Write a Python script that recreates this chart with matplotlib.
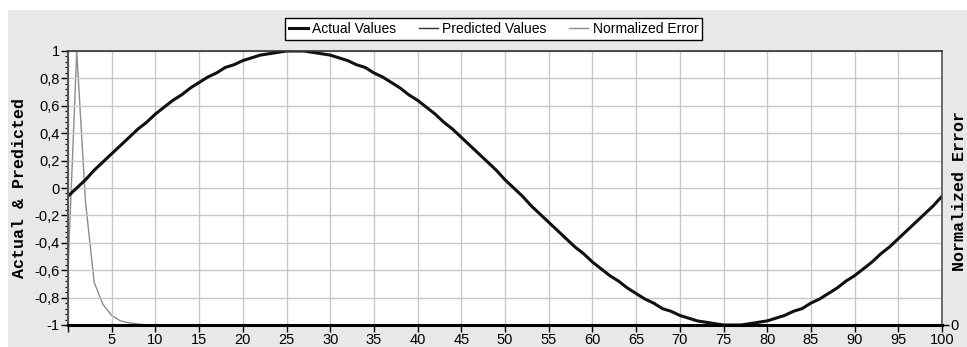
import numpy as np
import matplotlib.pyplot as plt
from matplotlib.ticker import MultipleLocator, FuncFormatter
from matplotlib.patches import Rectangle

# Data (one sample per x step)
x_values = list(range(0, 101))
actual_values = [
    -0.06, 0.00, 0.06, 0.13, 0.19, 0.25, 0.31, 0.37, 0.43, 0.48,
    0.54, 0.59, 0.64, 0.68, 0.73, 0.77, 0.81, 0.84, 0.88, 0.90,
    0.93, 0.95, 0.97, 0.98, 0.99, 1.00, 1.00, 1.00, 0.99, 0.98,
    0.97, 0.95, 0.93, 0.90, 0.88, 0.84, 0.81, 0.77, 0.73, 0.68,
    0.64, 0.59, 0.54, 0.48, 0.43, 0.37, 0.31, 0.25, 0.19, 0.13,
    0.06, 0.00, -0.06, -0.13, -0.19, -0.25, -0.31, -0.37, -0.43, -0.48,
    -0.54, -0.59, -0.64, -0.68, -0.73, -0.77, -0.81, -0.84, -0.88, -0.90,
    -0.93, -0.95, -0.97, -0.98, -0.99, -1.00, -1.00, -1.00, -0.99, -0.98,
    -0.97, -0.95, -0.93, -0.90, -0.88, -0.84, -0.81, -0.77, -0.73, -0.68,
    -0.64, -0.59, -0.54, -0.48, -0.43, -0.37, -0.31, -0.25, -0.19, -0.13,
    -0.06,
]
# predicted curve sits right under the actual one
predicted_values = list(actual_values)
error_values = [0.20, 1.00, 0.45, 0.155, 0.075, 0.035, 0.015, 0.008, 0.004] + [0.0] * 92

x_ticks = list(range(0, 101, 5))
y_ticks = [-1, -0.8, -0.6, -0.4, -0.2, 0, 0.2, 0.4, 0.6, 0.8, 1]

W, H = 967, 347
tick_font = ['Liberation Sans Narrow', 'Liberation Sans', 'DejaVu Sans']
label_font = ['Liberation Mono', 'DejaVu Sans Mono']

fig = plt.figure(figsize=(W / 100, H / 100), dpi=100, facecolor='white')
fig.patches.append(Rectangle((8 / W, 0), 1, 1 - 10 / H, transform=fig.transFigure,
                             facecolor='#e8e8e8', edgecolor='none', zorder=0))

ax = fig.add_axes([68 / W, 22 / H, 874 / W, 274 / H])
ax2 = ax.twinx()
ax2.set_zorder(1)
ax.set_zorder(2)
ax.patch.set_visible(False)
ax2.patch.set_visible(True)
ax2.patch.set_facecolor('white')

# Error on the secondary axis
err_line, = ax2.plot(x_values, error_values, color='#8c8c8c', lw=1.0)
ax2.set_ylim(0, 1)
ax2.set_yticks([0])
ax2.tick_params(axis='y', direction='out', length=5, width=1, pad=1,
                labelsize=10.5, labelfontfamily=tick_font)
for s in ax2.spines.values():
    s.set_visible(False)

pred_line, = ax.plot(x_values, predicted_values, color='#333333', lw=1.0)
act_line, = ax.plot(x_values, actual_values, color='#111111', lw=2.2)

ax.set_xlim(0, 100)
ax.set_ylim(-1, 1)
ax.set_xticks(x_ticks)
ax.set_yticks(y_ticks)
ax.yaxis.set_minor_locator(MultipleLocator(0.04))
ax.xaxis.set_major_formatter(FuncFormatter(lambda v, p: '' if v == 0 else '%d' % v))
ax.yaxis.set_major_formatter(FuncFormatter(lambda v, p: ('%g' % round(v, 1)).replace('.', ',')))
ax.grid(True, color='#c8c8c8', lw=1)
ax.tick_params(axis='both', which='major', direction='out', length=5, width=1,
               labelsize=10.5, labelfontfamily=tick_font)
ax.tick_params(axis='x', pad=1)
ax.tick_params(axis='y', pad=1)
ax.tick_params(axis='y', which='minor', direction='out', length=2.5, width=0.8)

ax.spines['bottom'].set_linewidth(2.2)
ax.spines['bottom'].set_color('black')
ax.spines['left'].set_linewidth(1.5)
ax.spines['left'].set_color('#555555')
ax.spines['top'].set_linewidth(1.2)
ax.spines['top'].set_color('#333333')
ax.spines['right'].set_linewidth(1.2)
ax.spines['right'].set_color('#555555')

fig.text(19.5 / W, 1 - 188 / H, 'Actual & Predicted', rotation=90, ha='center', va='center',
         family=label_font, weight='bold', size=12)
fig.text(952 / W, 1 - 191 / H, 'Normalized Error', rotation=90, ha='left', va='center',
         family=label_font, weight='bold', size=12)

leg = fig.legend([act_line, pred_line, err_line],
                 ['Actual Values', 'Predicted Values', 'Normalized Error'],
                 loc='center', bbox_to_anchor=(493.5 / W, 1 - 29 / H),
                 bbox_transform=fig.transFigure, ncol=3, frameon=True, fancybox=False,
                 edgecolor='black', framealpha=1, handlelength=1.4, handletextpad=0.3,
                 columnspacing=1.6, borderpad=0.3, borderaxespad=0,
                 prop={'family': ['Liberation Sans', 'DejaVu Sans'], 'size': 10})
leg.get_frame().set_linewidth(1)

fig.savefig('out.png', dpi=100)
